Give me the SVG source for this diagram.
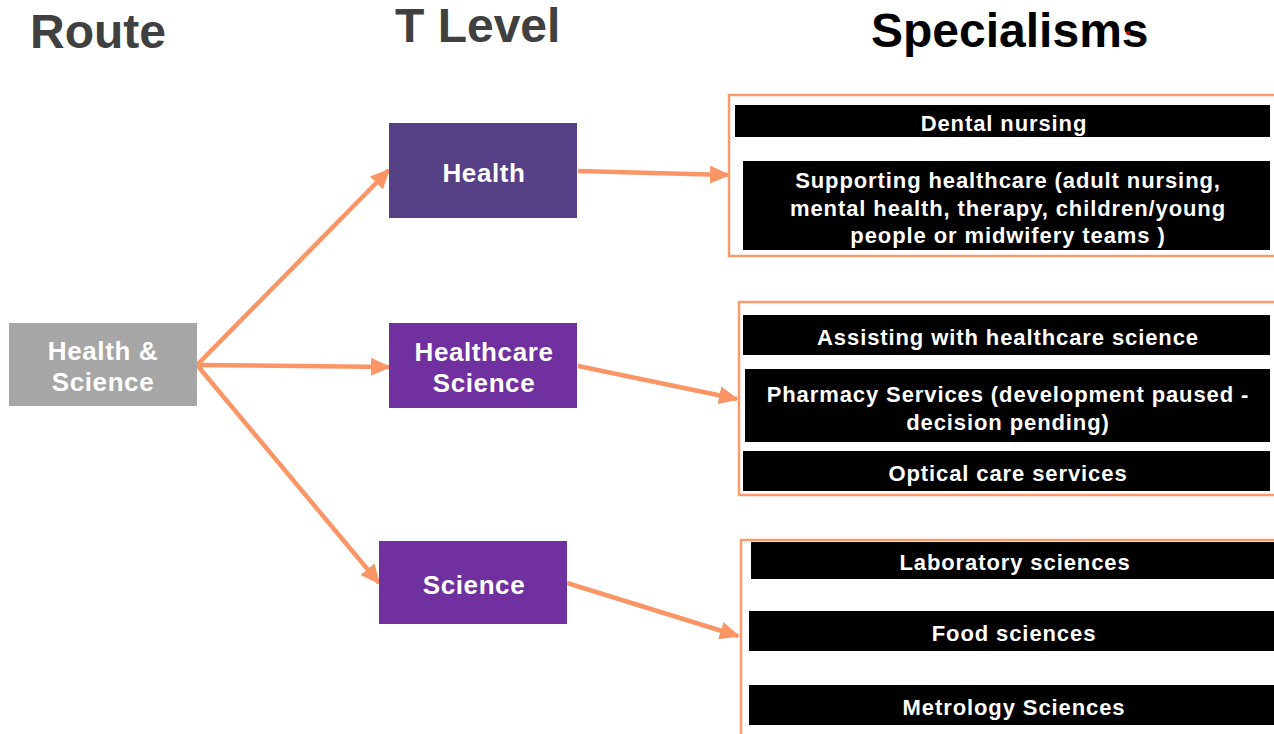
<svg xmlns="http://www.w3.org/2000/svg" width="1274" height="734" viewBox="0 0 1274 734">
<style>
.title{font-family:"Liberation Sans",Arial,sans-serif;font-weight:bold;font-size:48px;}
.node{font-family:"Liberation Sans",Arial,sans-serif;font-weight:bold;font-size:26px;fill:#fff;text-anchor:middle;letter-spacing:0.6px;}
.spec{font-family:"Liberation Sans",Arial,sans-serif;font-weight:bold;font-size:22px;fill:#fff;text-anchor:middle;letter-spacing:0.9px;}
.bar{fill:#000;}
.grp{fill:none;stroke:#fb9a6c;stroke-width:2.5;}
.conn{stroke:#fb9566;stroke-width:4.5;fill:none;marker-end:url(#ah);}
</style>
<defs>
<marker id="ah" markerUnits="userSpaceOnUse" markerWidth="20" markerHeight="18" refX="18" refY="9" orient="auto" viewBox="0 0 20 18">
<path d="M0,0 L20,9 L0,18 Z" fill="#fb9566"/>
</marker>
</defs>
<rect width="1274" height="734" fill="#fff"/>
<g id="titles">
<text class="title" x="30" y="48" fill="#404040">Route</text>
<text class="title" x="395" y="42" fill="#404040">T Level</text>
<text class="title" x="871" y="47" fill="#000">Specialisms</text>
<circle cx="1128" cy="33" r="2" fill="#e00000"/>
</g>
<g id="connectors">
<line class="conn" x1="197" y1="365" x2="389" y2="170"/>
<line class="conn" x1="197" y1="365" x2="389" y2="367"/>
<line class="conn" x1="197" y1="365" x2="379" y2="583"/>
<line class="conn" x1="578" y1="171" x2="728" y2="175"/>
<line class="conn" x1="578" y1="366" x2="737" y2="399"/>
<line class="conn" x1="567" y1="583" x2="738" y2="636"/>
</g>
<g id="node-route">
<rect x="9" y="323" width="188" height="83" fill="#a6a6a6"/>
<text class="node" x="103" y="360">Health &amp;</text>
<text class="node" x="103" y="391">Science</text>
</g>
<g id="node-health">
<rect x="389" y="123" width="188" height="95" fill="#564085"/>
<text class="node" x="484" y="182">Health</text>
</g>
<g id="node-healthcare-science">
<rect x="389" y="323" width="188" height="85" fill="#7030a0"/>
<text class="node" x="484" y="361">Healthcare</text>
<text class="node" x="484" y="392">Science</text>
</g>
<g id="node-science">
<rect x="379" y="541" width="188" height="83" fill="#7030a0"/>
<text class="node" x="474" y="594">Science</text>
</g>
<g id="group-health">
<rect class="grp" x="729" y="95" width="560" height="161"/>
<rect class="bar" x="735" y="105" width="535" height="32"/>
<text class="spec" x="1004" y="131">Dental nursing</text>
<rect class="bar" x="743" y="161" width="527" height="89"/>
<text class="spec" x="1008" y="188">Supporting healthcare (adult nursing,</text>
<text class="spec" x="1008" y="216">mental health, therapy, children/young</text>
<text class="spec" x="1008" y="243">people or midwifery teams )</text>
</g>
<g id="group-healthcare-science">
<rect class="grp" x="739" y="302" width="550" height="193"/>
<rect class="bar" x="743" y="315" width="527" height="40"/>
<text class="spec" x="1008" y="345">Assisting with healthcare science</text>
<rect class="bar" x="745" y="369" width="525" height="73"/>
<text class="spec" x="1008" y="402">Pharmacy Services (development paused -</text>
<text class="spec" x="1008" y="430">decision pending)</text>
<rect class="bar" x="743" y="451" width="527" height="40"/>
<text class="spec" x="1008" y="481">Optical care services</text>
</g>
<g id="group-science">
<rect class="grp" x="741" y="540" width="560" height="220"/>
<rect class="bar" x="751" y="542" width="523" height="37"/>
<text class="spec" x="1015" y="570">Laboratory sciences</text>
<rect class="bar" x="749" y="611" width="525" height="40"/>
<text class="spec" x="1014" y="641">Food sciences</text>
<rect class="bar" x="749" y="685" width="525" height="40"/>
<text class="spec" x="1014" y="715">Metrology Sciences</text>
</g>
</svg>
